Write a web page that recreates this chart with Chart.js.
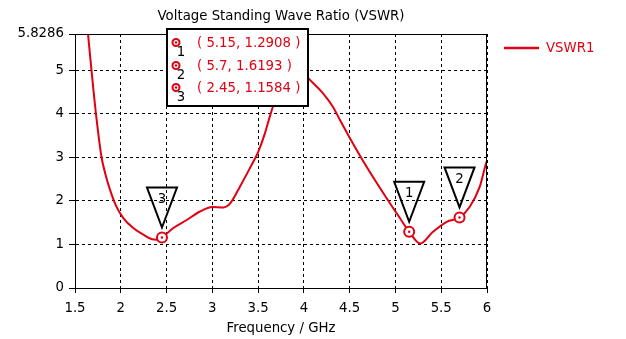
<!DOCTYPE html>
<html>
<head>
<meta charset="utf-8">
<script src="https://cdn.jsdelivr.net/npm/chart.js@4.4.1/dist/chart.umd.min.js"></script>
<style>
    html, body { margin: 0; padding: 0; background: #fff; }
</style>
</head>
<body>
<canvas id="grafico" width="626" height="339"></canvas>
<script>
// curva VSWR
const freq = [1.6, 1.642, 1.68, 1.73, 1.79, 1.83, 1.88, 1.95, 2.03, 2.14, 2.25, 2.34, 2.4, 2.45,
    2.57, 2.72, 2.86, 3.0, 3.12, 3.19, 3.3, 3.41, 3.5, 3.57, 3.63, 3.7, 3.77, 3.85, 3.92, 4.0,
    4.05, 4.2, 4.32, 4.4, 4.5, 4.68, 4.87, 5.05, 5.15, 5.27, 5.41, 5.56, 5.7, 5.81, 5.92, 5.99, 6.0];
const vswr = [6.7, 5.83, 5.0, 3.98, 3.0, 2.63, 2.27, 1.88, 1.6, 1.37, 1.22, 1.12, 1.11, 1.1584,
    1.37, 1.56, 1.75, 1.86, 1.85, 1.93, 2.32, 2.75, 3.12, 3.52, 3.95, 4.4, 4.72, 4.97, 5.03, 4.93,
    4.81, 4.49, 4.15, 3.83, 3.45, 2.8, 2.17, 1.6, 1.2908, 1.02, 1.29, 1.52, 1.6193, 1.86, 2.32, 2.86, 2.92];

const markerNames = ['1', '2', '3'];
const markerFreq = [5.15, 5.7, 2.45];
const markerVswr = [1.2908, 1.6193, 1.1584];

const xTicks = [1.5, 2, 2.5, 3, 3.5, 4, 4.5, 5, 5.5, 6];
const yTicks = [0, 1, 2, 3, 4, 5, 5.8286];

const vermelho = '#e00012';
const fonte = 'DejaVu Sans';
const tam = 13.3;

function marcador(ctx, x, y, r) {
    ctx.strokeStyle = vermelho;
    ctx.fillStyle = '#fff';
    ctx.lineWidth = 2;
    ctx.beginPath();
    ctx.arc(x, y, r, 0, Math.PI * 2);
    ctx.fill();
    ctx.stroke();
    ctx.fillStyle = vermelho;
    ctx.beginPath();
    ctx.arc(x, y, 1.2, 0, Math.PI * 2);
    ctx.fill();
}

const extras = {
    id: 'extras',
    afterDraw(chart) {
        const ctx = chart.ctx;
        const a = chart.chartArea;
        const sx = chart.scales.x, sy = chart.scales.y;
        ctx.save();

        // moldura
        ctx.strokeStyle = '#000';
        ctx.lineWidth = 1;
        ctx.strokeRect(a.left + 0.5, a.top + 0.5, a.right - a.left - 1, a.bottom - a.top);

        // marcadores e triângulos
        for (let i = 0; i < markerFreq.length; i++) {
            const px = sx.getPixelForValue(markerFreq[i]);
            const py = sy.getPixelForValue(markerVswr[i]);
            marcador(ctx, px, py, 5);
            ctx.strokeStyle = '#000';
            ctx.lineWidth = 2;
            ctx.beginPath();
            ctx.moveTo(px - 15, py - 50);
            ctx.lineTo(px + 15, py - 50);
            ctx.lineTo(px, py - 10);
            ctx.closePath();
            ctx.stroke();
            ctx.fillStyle = '#000';
            ctx.font = tam + 'px ' + fonte;
            ctx.textAlign = 'center';
            ctx.textBaseline = 'middle';
            ctx.fillText(markerNames[i], px, py - 38);
        }

        // caixa dos marcadores
        ctx.fillStyle = '#fff';
        ctx.fillRect(167, 29, 141, 77);
        ctx.strokeStyle = '#000';
        ctx.lineWidth = 2;
        ctx.strokeRect(167, 29, 141, 77);
        const linhas = [42.5, 65.5, 87.5];
        for (let i = 0; i < markerFreq.length; i++) {
            marcador(ctx, 176, linhas[i], 3.5);
            ctx.fillStyle = vermelho;
            ctx.font = tam + 'px ' + fonte;
            ctx.textAlign = 'left';
            ctx.textBaseline = 'middle';
            ctx.fillText('( ' + markerFreq[i] + ', ' + markerVswr[i] + ' )', 197, linhas[i] + 1);
            ctx.fillStyle = '#000';
            ctx.textAlign = 'center';
            ctx.fillText(markerNames[i], 181, linhas[i] + 10);
        }

        // título
        ctx.fillStyle = '#000';
        ctx.font = tam + 'px ' + fonte;
        ctx.textAlign = 'center';
        ctx.textBaseline = 'middle';
        ctx.fillText('Voltage Standing Wave Ratio (VSWR)', (a.left + a.right) / 2, 17);

        // legenda
        ctx.strokeStyle = vermelho;
        ctx.lineWidth = 2.5;
        ctx.beginPath();
        ctx.moveTo(504, 48);
        ctx.lineTo(539, 48);
        ctx.stroke();
        ctx.fillStyle = vermelho;
        ctx.textAlign = 'left';
        ctx.fillText('VSWR1', 546, 49);

        ctx.restore();
    }
};

window.addEventListener('DOMContentLoaded', () => {
    const ctx = document.getElementById('grafico').getContext('2d');

    new Chart(ctx, {
        type: 'line',
        data: {
            datasets: [{
                label: 'VSWR1',
                data: freq.map((f, i) => ({ x: f, y: vswr[i] })),
                borderColor: vermelho,
                borderWidth: 2,
                pointRadius: 0,
                cubicInterpolationMode: 'monotone',
                clip: 0
            }]
        },
        options: {
            responsive: false,
            animation: false,
            layout: { padding: { top: 34, right: 139, left: 0, bottom: 0 } },
            scales: {
                x: {
                    type: 'linear',
                    min: 1.5,
                    max: 6,
                    afterBuildTicks: s => { s.ticks = xTicks.map(v => ({ value: v })); },
                    afterFit: s => { s.height = 51; },
                    ticks: {
                        color: '#000',
                        font: { family: fonte, size: tam },
                        padding: 8,
                        maxRotation: 0,
                        callback: v => String(v)
                    },
                    grid: { color: '#000', tickColor: '#000', tickLength: 5 },
                    border: { color: '#000', dash: [3, 3], width: 1 },
                    title: {
                        display: true,
                        text: 'Frequency / GHz',
                        color: '#000',
                        font: { family: fonte, size: tam },
                        padding: { top: 0, bottom: 2 }
                    }
                },
                y: {
                    min: 0,
                    max: 5.8286,
                    afterBuildTicks: s => { s.ticks = yTicks.map(v => ({ value: v })); },
                    afterFit: s => { s.width = 75; },
                    ticks: {
                        color: '#000',
                        font: { family: fonte, size: tam },
                        padding: 5,
                        callback: v => String(v)
                    },
                    grid: { color: '#000', tickColor: '#000', tickLength: 6 },
                    border: { color: '#000', dash: [3, 3], width: 1 }
                }
            },
            plugins: {
                legend: { display: false },
                tooltip: { enabled: false }
            }
        },
        plugins: [extras]
    });
});
</script>
</body>
</html>
